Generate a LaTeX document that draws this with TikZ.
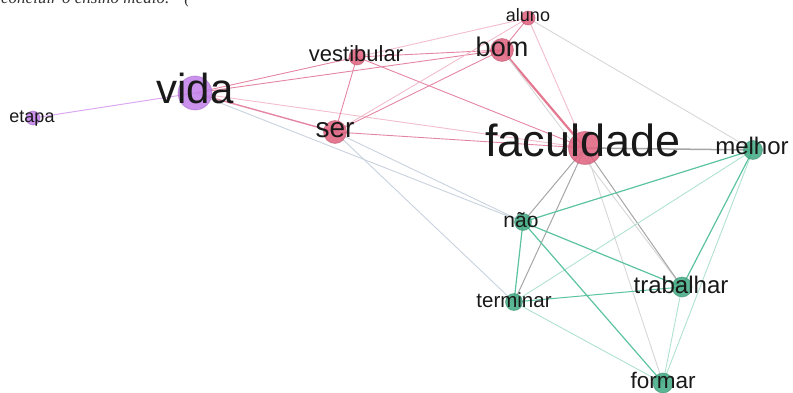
\documentclass[tikz,border=0pt]{standalone}
\usepackage{fontspec}
\setmainfont{Liberation Sans}
\newfontfamily\serifit{Liberation Serif}
\usetikzlibrary{backgrounds}
\definecolor{pinkN}{HTML}{E0607E}
\definecolor{purpN}{HTML}{C17FEA}
\definecolor{tealN}{HTML}{3EA982}
\definecolor{pinkE}{HTML}{E486A3}
\definecolor{pinkL}{HTML}{F2BDCD}
\definecolor{greyE}{HTML}{A6A6A6}
\definecolor{greyL}{HTML}{D6D6D6}
\definecolor{tealE}{HTML}{5CC3A0}
\definecolor{tealL}{HTML}{B0E2CF}
\definecolor{blueL}{HTML}{C8D2DE}
\definecolor{purpE}{HTML}{DCA8F2}
\tikzset{
  dot/.style={circle, inner sep=0pt, fill=#1, fill opacity=0.85, draw=#1!80!black, draw opacity=0.5, line width=0.8pt},
  lab/.style={anchor=base, inner sep=0pt, text=black!90},
  ep/.style={draw=pinkE, line width=0.9pt},
  epl/.style={draw=pinkL, line width=0.9pt},
  eg/.style={draw=greyE, line width=1pt},
  egl/.style={draw=greyL, line width=0.9pt},
  et/.style={draw=tealE, line width=1.2pt},
  etl/.style={draw=tealL, line width=0.9pt},
  eb/.style={draw=blueL, line width=0.9pt},
}
\newcommand{\fs}[1]{\fontsize{#1}{#1}\selectfont}
\begin{document}
\begin{tikzpicture}[x=1pt,y=-1pt]
\useasboundingbox (0,0) rectangle (793,393);
\node[anchor=base west, inner sep=0pt, text=black!80] (top) at (1,3.5) {\serifit\itshape\fs{17}concluir o ensino médio.” (};
% nodes
\node[dot=purpN, minimum size=34pt] (vida) at (195,93) {};
\node[dot=purpN, minimum size=14pt] (etapa) at (33,118) {};
\node[dot=pinkN, minimum size=16pt] (vestibular) at (357,57) {};
\node[dot=pinkN, minimum size=23pt] (bom) at (502,50) {};
\node[dot=pinkN, minimum size=14pt] (aluno) at (528,18) {};
\node[dot=pinkN, minimum size=23pt] (ser) at (335,132) {};
\node[dot=pinkN, minimum size=33pt] (faculdade) at (585,148) {};
\node[dot=tealN, minimum size=19pt] (melhor) at (753,150) {};
\node[dot=tealN, minimum size=17pt] (nao) at (523,222) {};
\node[dot=tealN, minimum size=17pt] (terminar) at (514,302) {};
\node[dot=tealN, minimum size=20pt] (trabalhar) at (682,287) {};
\node[dot=tealN, minimum size=20pt] (formar) at (663,383) {};
% labels
\node[lab] (Lvida) at (195,104) {\fs{42}vida};
\node[lab] (Letapa) at (32,123) {\fs{18}etapa};
\node[lab] (Lvest) at (356,62) {\fs{22}vestibular};
\node[lab] (Lbom) at (502,57) {\fs{27}bom};
\node[lab] (Laluno) at (528,22) {\fs{18}aluno};
\node[lab] (Lser) at (335,138) {\fs{28}ser};
\node[lab] (Lfac) at (583,157) {\fs{45}faculdade};
\node[lab] (Lmelhor) at (752,155) {\fs{24}melhor};
\node[lab] (Lnao) at (521,227) {\fs{21}não};
\node[lab] (Lterm) at (514,307) {\fs{20.5}terminar};
\node[lab] (Ltrab) at (681,293) {\fs{24}trabalhar};
\node[lab] (Lform) at (663,388) {\fs{22.5}formar};
% edges
\begin{scope}[on background layer]
\draw[draw=purpE, line width=1pt] (etapa.center) -- (vida.center);
\draw[ep] (vida.center) -- (vestibular.center);
\draw[ep] (vida.center) -- (bom.center);
\draw[ep, line width=1.4pt] (vida.center) -- (ser.center);
\draw[epl] (vida.center) -- (faculdade.center);
\draw[eb] (vida.center) -- (nao.center);
\draw[epl] (vestibular.center) -- (aluno.center);
\draw[ep] (vestibular.center) -- (bom.center);
\draw[ep] (vestibular.center) -- (ser.center);
\draw[ep] (vestibular.center) -- (faculdade.center);
\draw[ep] (ser.center) -- (bom.center);
\draw[epl] (ser.center) -- (aluno.center);
\draw[ep] (ser.center) -- (faculdade.center);
\draw[eb] (ser.center) -- (nao.center);
\draw[eb] (ser.center) -- (terminar.center);
\draw[ep] (bom.center) -- (aluno.center);
\draw[ep, draw=pinkN!85, line width=2.2pt] (bom.center) -- (faculdade.center);
\draw[egl] (bom.center) -- (trabalhar.center);
\draw[epl] (aluno.center) -- (faculdade.center);
\draw[egl] (aluno.center) -- (melhor.center);
\draw[eg, line width=1.5pt] (faculdade.center) -- (melhor.center);
\draw[eg] (faculdade.center) -- (nao.center);
\draw[eg] (faculdade.center) -- (terminar.center);
\draw[egl] (faculdade.center) -- (formar.center);
\draw[eg] (faculdade.center) -- (trabalhar.center);
\draw[et] (melhor.center) -- (nao.center);
\draw[etl] (melhor.center) -- (terminar.center);
\draw[et] (melhor.center) -- (trabalhar.center);
\draw[etl] (melhor.center) -- (formar.center);
\draw[et] (nao.center) -- (terminar.center);
\draw[et] (nao.center) -- (trabalhar.center);
\draw[et] (nao.center) -- (formar.center);
\draw[et, line width=1pt] (terminar.center) -- (trabalhar.center);
\draw[etl] (terminar.center) -- (formar.center);
\draw[etl] (trabalhar.center) -- (formar.center);
\end{scope}
\end{tikzpicture}
\end{document}
